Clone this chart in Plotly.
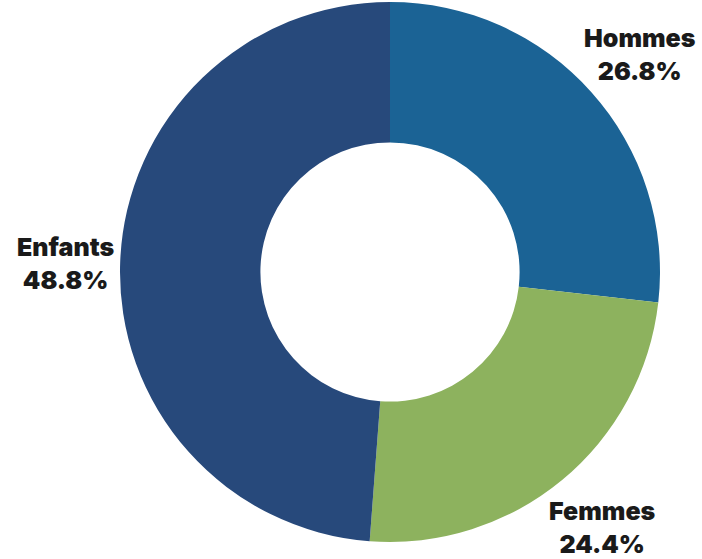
import plotly.graph_objects as go

# Répartition de la population par groupe
groupes = ["Hommes", "Femmes", "Enfants"]
parts = [26.8, 24.4, 48.8]
couleurs = ["#1b6395", "#8db25e", "#27497b"]

# Position (x, y en fraction de la page) de chaque étiquette
etiquettes_x = [0.912, 0.858, 0.094]
etiquettes_y = [0.903, 0.056, 0.529]

W, H = 702, 559
cx, cy, r = 390, 272, 270

fig = go.Figure(
    go.Pie(
        labels=groupes,
        values=parts,
        marker=dict(colors=couleurs, line=dict(width=0)),
        hole=0.48,
        sort=False,
        direction="clockwise",
        rotation=0,
        textinfo="none",
        hoverinfo="label+percent",
        domain=dict(
            x=[(cx - r) / W, (cx + r) / W],
            y=[1 - (cy + r) / H, 1 - (cy - r) / H],
        ),
        showlegend=False,
    )
)

for nom, val, x, y in zip(groupes, parts, etiquettes_x, etiquettes_y):
    fig.add_annotation(
        x=x, y=y, xref="paper", yref="paper",
        text=f"{nom}<br>{val:.1f}%",
        showarrow=False,
        font=dict(family="Inter", size=25, color="#1a1a1a", weight=900),
        align="center",
        xanchor="center", yanchor="middle",
    )

fig.update_layout(
    width=W, height=H,
    margin=dict(l=0, r=0, t=0, b=0),
    paper_bgcolor="white",
    plot_bgcolor="white",
)

fig.write_html("out.html")
